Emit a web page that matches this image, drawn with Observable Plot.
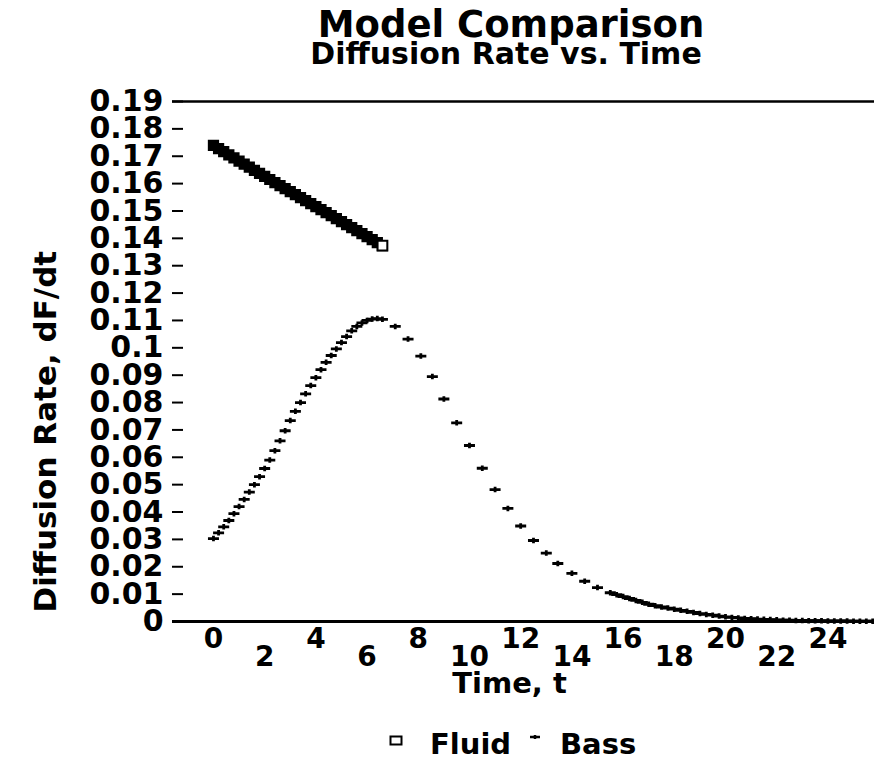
<!DOCTYPE html>
<html><head><meta charset="utf-8">
<script src="https://cdn.jsdelivr.net/npm/d3@7"></script>
<script src="https://cdn.jsdelivr.net/npm/@observablehq/plot@0.6"></script>
<style>
html,body{margin:0;padding:0;background:#fff;}
#wrap{position:relative;width:874px;height:762px;overflow:hidden;font-family:"DejaVu Sans",sans-serif;font-weight:bold;color:#000;background:#fff;}
.t{position:absolute;white-space:nowrap;}
</style></head><body>
<div id="wrap">
  <div class="t" id="title" style="left:74px;width:874px;text-align:center;top:8px;font-size:37px;line-height:33px;"></div>
  <div class="t" id="sub" style="left:69px;width:874px;text-align:center;top:40px;font-size:30px;line-height:27px;"></div>
  <div id="chart" style="position:absolute;left:0;top:88px;"></div>
  <div id="legend"></div>
</div>
<script>
const titleText = "Model Comparison";
const subtitleText = "Diffusion Rate vs. Time";
const xLabel = "Time, t";
const yLabel = "Diffusion Rate, dF/dt";
const seriesNames = ["Fluid", "Bass"];

const yTicks = [0,0.01,0.02,0.03,0.04,0.05,0.06,0.07,0.08,0.09,0.1,0.11,0.12,0.13,0.14,0.15,0.16,0.17,0.18,0.19];
const xTicksUpper = [0,4,8,12,16,20,24];
const xTicksLower = [2,6,10,14,18,22];

const fluidT = [0,0.2,0.4,0.6,0.8,1.0,1.2,1.4,1.6,1.8,2.0,2.2,2.4,2.6,2.8,3.0,3.2,3.4,3.6,3.8,4.0,4.2,4.4,4.6,4.8,5.0,5.2,5.4,5.6,5.8,6.0,6.2,6.4,6.6];
const fluidV = [0.1740,0.1728,0.1717,0.1705,0.1694,0.1682,0.1671,0.1660,0.1648,0.1637,0.1626,0.1615,0.1604,0.1593,0.1582,0.1571,0.1560,0.1549,0.1538,0.1527,0.1516,0.1505,0.1494,0.1483,0.1472,0.1461,0.1450,0.1439,0.1428,0.1417,0.1406,0.1395,0.1384,0.1373];

const bassT = [0,0.2,0.4,0.6,0.8,1.0,1.2,1.4,1.6,1.8,2.0,2.2,2.4,2.6,2.8,3.0,3.2,3.4,3.6,3.8,4.0,4.2,4.4,4.6,4.8,5.0,5.2,5.4,5.6,5.8,6.0,6.2,6.4,6.6,
  7.1,7.6,8.1,8.55,9.0,9.5,10.0,10.5,11.0,11.5,12.0,12.5,13.0,13.45,14.0,14.5,15.0,
  15.5,15.75,16.0,16.25,16.5,16.75,17.0,17.25,17.5,17.75,18.0,18.25,18.5,18.75,19.0,19.25,19.5,19.75,20.0,20.25,20.5,20.75,21.0,21.25,21.5,21.75,22.0,22.25,22.5,22.75,23.0,23.25,23.5,23.75,24.0,24.25,24.5,24.75,25.0,25.25,25.5,25.75];
const bassV = [0.0303,0.0324,0.0346,0.0369,0.0394,0.0420,0.0446,0.0473,0.0500,0.0529,0.0559,0.0590,0.0624,0.0660,0.0697,0.0734,0.0768,0.0800,0.0832,0.0862,0.0891,0.0920,0.0947,0.0972,0.0996,0.1019,0.1041,0.1062,0.1078,0.1091,0.1100,0.1105,0.1107,0.1104,
  0.1078,0.1032,0.0970,0.0895,0.0813,0.0726,0.0643,0.0560,0.0482,0.0413,0.0349,0.0296,0.0250,0.0212,0.0176,0.0147,0.0124,
  0.0105,0.0098,0.0091,0.0084,0.0077,0.0070,0.0063,0.0058,0.0053,0.0049,0.0045,0.0041,0.0037,0.0033,0.0029,0.0026,0.0023,0.0020,0.0017,0.0015,0.0013,0.0011,0.0010,0.0009,0.0008,0.0007,0.0006,0.0005,0.0005,0.0004,0.0004,0.0003,0.0003,0.0003,0.0002,0.0002,0.0002,0.0002,0.0001,0.0001,0.0001,0.0001];

const fluid = fluidT.map((t, i) => ({t, v: fluidV[i]}));
const bass = bassT.map((t, i) => ({t, v: bassV[i]}));

const bassSymbol = {
  draw(ctx, size) {
    const r = Math.sqrt(size / Math.PI);
    ctx.moveTo(-r, 0); ctx.lineTo(r, 0);
    ctx.moveTo(0, -r * 0.5); ctx.lineTo(0, r * 0.5);
  }
};

const fmt = d => d === 0 ? "0" : String(+d.toFixed(2));
const FONT = "DejaVu Sans";

document.getElementById("title").textContent = titleText;
document.getElementById("sub").textContent = subtitleText;

const chart = Plot.plot({
  width: 874, height: 630,
  marginTop: 13, marginBottom: 97, marginLeft: 172, marginRight: 0,
  style: {fontFamily: FONT, fontWeight: "bold", background: "white", overflow: "visible", color: "#000"},
  x: {domain: [-1.6, 25.82]},
  y: {domain: [0, 0.19]},
  marks: [
    Plot.ruleY([0.19], {stroke: "#000", strokeWidth: 2.5}),
    Plot.ruleY([0], {stroke: "#000", strokeWidth: 3}),
    Plot.axisY(yTicks, {tickSize: -11, tickPadding: 20, strokeWidth: 2, fontSize: 30, fontWeight: "bold", tickFormat: fmt, label: null}),
    Plot.axisX(xTicksUpper, {tickSize: 0, tickPadding: 7, fontSize: 28, fontWeight: "bold", label: null}),
    Plot.axisX(xTicksLower, {tickSize: 0, tickPadding: 25, fontSize: 28, fontWeight: "bold", label: null}),
    Plot.dot(fluid, {x: "t", y: "v", symbol: "square", r: 5.5, stroke: "#000", strokeWidth: 1.5, fill: "#000"}),
    Plot.dot(fluid.slice(-1), {x: "t", y: "v", symbol: "square", r: 5.5, stroke: "#000", strokeWidth: 2, fill: "#fff"}),
    Plot.dot(bass, {x: "t", y: "v", symbol: bassSymbol, r: 5.5, stroke: "#000", strokeWidth: 2.8}),
    Plot.text([yLabel], {text: d => d, frameAnchor: "bottom-left", rotate: -90, textAnchor: "start", lineAnchor: "bottom", dx: -117, dy: -9, fontSize: 31, fontWeight: "bold"}),
    Plot.text([xLabel], {text: d => d, frameAnchor: "bottom", lineAnchor: "bottom", dx: -14, dy: 71, fontSize: 29, fontWeight: "bold"})
  ]
});
document.getElementById("chart").appendChild(chart);

// legend
const lg = document.getElementById("legend");
lg.innerHTML =
  `<svg class="t" style="left:389px;top:735px" width="14" height="12"><rect x="1.5" y="1.5" width="11" height="8" fill="none" stroke="#000" stroke-width="2"/></svg>` +
  `<div class="t" style="left:430px;top:730px;font-size:29px;line-height:29px;">${seriesNames[0]}</div>` +
  `<svg class="t" style="left:528px;top:731px" width="14" height="12"><path d="M2,6H12M7,4V8" stroke="#000" stroke-width="2.5" fill="none"/></svg>` +
  `<div class="t" style="left:560px;top:730px;font-size:29px;line-height:29px;">${seriesNames[1]}</div>`;
</script>
</body></html>
